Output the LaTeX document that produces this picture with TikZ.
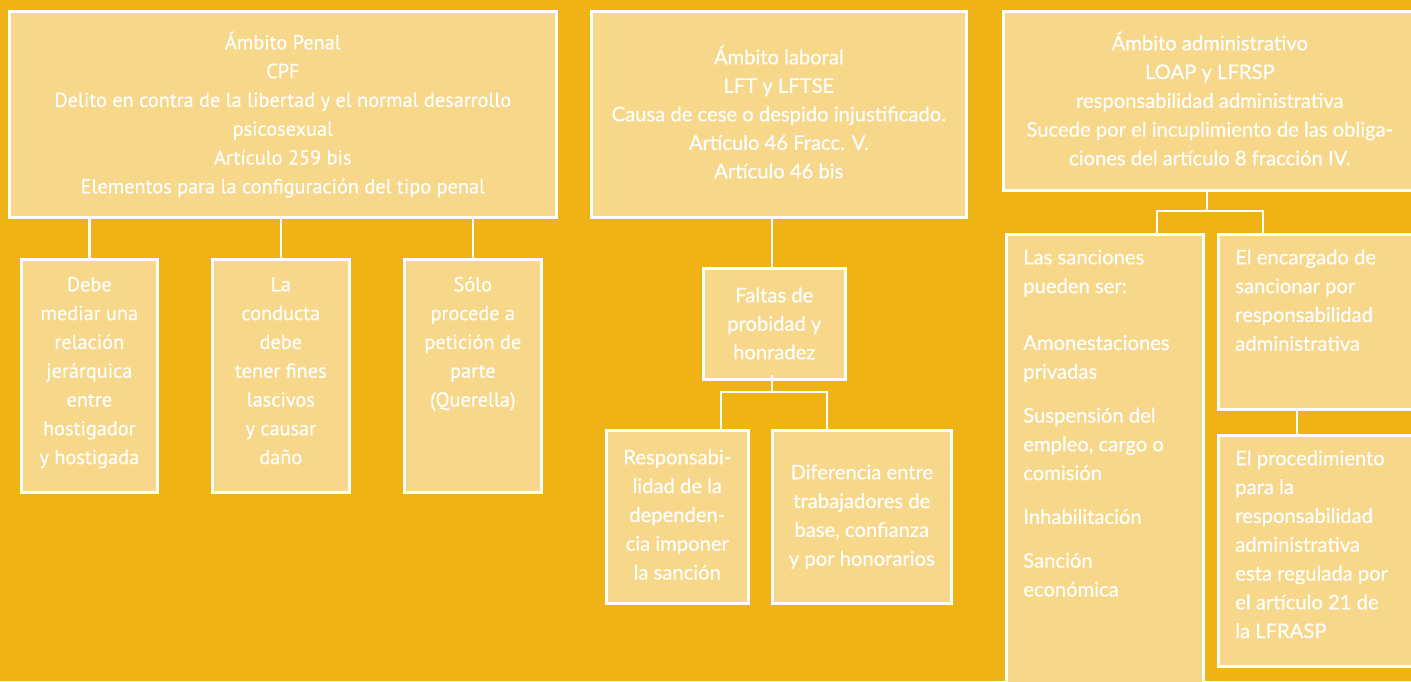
\documentclass[tikz,border=0pt]{standalone}
\usepackage{fontspec}
\usetikzlibrary{calc}
\newfontfamily\lfont[FakeBold=0.35]{PT Sans}
\newfontfamily\rfont[FakeBold=0.45]{Lato}
\definecolor{bgcol}{RGB}{239,179,21}
\definecolor{boxcol}{RGB}{247,216,139}
% #1 width, #2 height, #3 first baseline offset, #4 line skip, #5 alignment, #6 text
\newcommand{\bxtext}[6]{\vbox to #2{\hsize=#1\relax\parindent=0pt\baselineskip=#4\relax\lineskiplimit=-100pt\relax
  \vskip\dimexpr#3-20pt\relax #5\rule{0pt}{20pt}#6\par\vss}}
\newcommand{\lind}{\raggedright\leftskip=17pt\relax}
\begin{document}
\begin{tikzpicture}[x=1pt,y=-1pt,
  box/.style={draw=white,line width=2.6pt,fill=boxcol,inner sep=0pt,text=white,anchor=north west},
  lft/.style={font=\lfont\fontsize{20.3}{29}\selectfont},
  rgt/.style={font=\rfont\fontsize{20.2}{29}\selectfont},
  conn/.style={draw=white,line width=2.6pt}]
\useasboundingbox (0,0) rectangle (1411,681);
\fill[bgcol] (0,0) rectangle (1411,681);
% Left column
\node[box,lft] (penal) at (8,10)
  {\bxtext{547pt}{206pt}{38pt}{28.8pt}{\centering}{Ámbito Penal\\CPF\\Delito en contra de la libertad y el normal desarrollo\\psicosexual\\Artículo 259 bis\\Elementos para la configuración del tipo penal}};
\node[box,lft] (pa) at (20,258)
  {\bxtext{136pt}{233pt}{32pt}{28.8pt}{\centering}{Debe\\mediar una\\relación\\jerárquica\\entre\\hostigador\\y hostigada}};
\node[box,lft] (pb) at (211,258)
  {\bxtext{137pt}{233pt}{32pt}{28.8pt}{\centering}{La\\conducta\\debe\\tener fines\\lascivos\\y causar\\daño}};
\node[box,lft] (pc) at (403,258)
  {\bxtext{137pt}{233pt}{32pt}{28.8pt}{\centering}{Sólo\\procede a\\petición de\\parte\\(Querella)}};
\draw[conn] (pa.north) -- (pa.north |- penal.south);
\draw[conn] (pb.north) -- (pb.north |- penal.south);
\draw[conn] (pc.north) -- (pc.north |- penal.south);
% Middle column
\node[box,rgt] (laboral) at (590,10)
  {\bxtext{375pt}{206pt}{53pt}{28.5pt}{\centering}{Ámbito laboral\\LFT y LFTSE\\Causa de cese o despido injustificado.\\Artículo 46 Fracc. V.\\Artículo 46 bis}};
\node[box,rgt] (faltas) at (702,267)
  {\bxtext{142pt}{111pt}{34pt}{28.5pt}{\centering}{Faltas de\\probidad y\\honradez}};
\node[box,rgt] (resp) at (605,429)
  {\bxtext{142pt}{173pt}{34pt}{28.8pt}{\centering}{Responsabi-\\lidad de la\\dependen-\\cia imponer\\la sanción}};
\node[box,rgt] (dif) at (771,429)
  {\bxtext{179pt}{173pt}{49pt}{28.8pt}{\centering}{Diferencia entre\\trabajadores de\\base, confianza\\y por honorarios}};
\coordinate (m1) at (772,392);
\coordinate (mL) at (721,392);
\coordinate (mR) at (827,392);
\draw[conn] (faltas.north -| m1) -- (m1 |- laboral.south);
\draw[conn] ($(m1 |- faltas.south)+(0,-6)$) -- (m1);
\draw[conn] (mL |- resp.north) -- (mL) -- (mR) -- (mR |- dif.north);
% Right column
\node[box,rgt] (adm) at (1002,10)
  {\bxtext{413pt}{179pt}{39pt}{28.75pt}{\centering}{Ámbito administrativo\\LOAP y LFRSP\\responsabilidad administrativa\\Sucede por el incuplimiento de las obliga-\\ciones del artículo 8 fracción IV.}};
\node[box,rgt] (sanc) at (1005,233)
  {\bxtext{197pt}{460pt}{30pt}{28.8pt}{\lind}{Las sanciones\\pueden ser:\\[28pt]Amonestaciones\\privadas\\[15pt]Suspensión del\\empleo, cargo o\\comisión\\[15pt]Inhabilitación\\[15pt]Sanción\\económica}};
\node[box,rgt] (enc) at (1217,233)
  {\bxtext{205pt}{175pt}{30pt}{28.8pt}{\lind}{El encargado de\\sancionar por\\responsabilidad\\administrativa}};
\node[box,rgt] (proc) at (1217,434)
  {\bxtext{205pt}{231pt}{30pt}{28.8pt}{\lind}{El procedimiento\\para la\\responsabilidad\\administrativa\\esta regulada por\\el artículo 21 de\\la LFRASP}};
\coordinate (r1) at (1207,211);
\coordinate (rL) at (1157,211);
\coordinate (rR) at (1263,211);
\coordinate (r2) at (1297,421);
\draw[conn] (r1 |- adm.south) -- (r1);
\draw[conn] (rL |- sanc.north) -- (rL) -- (rR) -- (rR |- enc.north);
\draw[conn] (r2 |- enc.south) -- (r2 |- proc.north);
\end{tikzpicture}
\end{document}
